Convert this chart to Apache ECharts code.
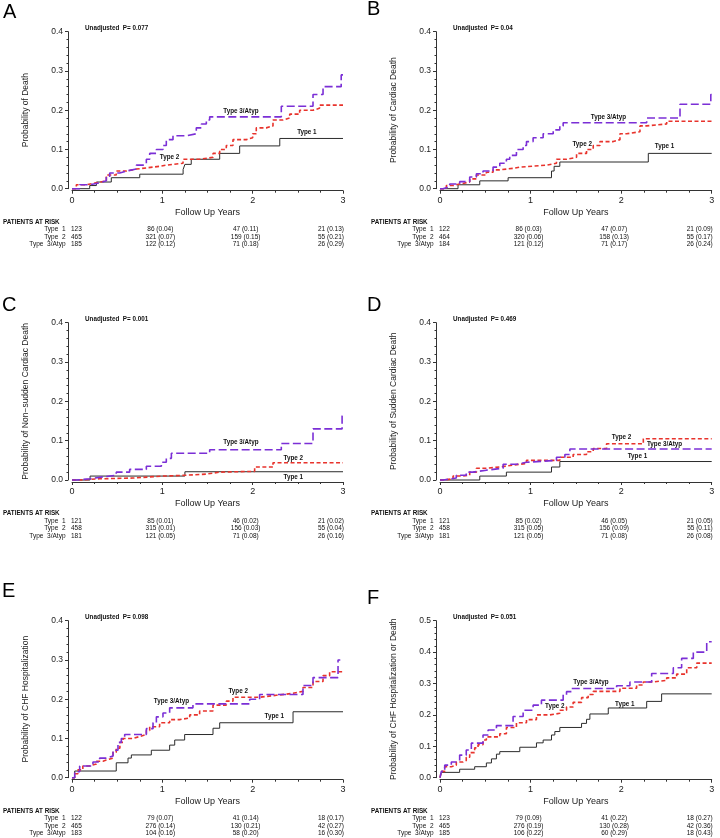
<!DOCTYPE html>
<html><head><meta charset="utf-8">
<script src="https://cdn.jsdelivr.net/npm/echarts@6/dist/echarts.min.js"></script>
<style>html,body{margin:0;padding:0;background:#fff}#c{width:720px;height:838px}</style>
</head><body><div id="c"></div>
<script>
// ---------------- DATA ----------------
const groups = ['Type 1', 'Type 2', 'Type 3/Atyp'];
const xTicks = [0, 1, 2, 3];
const panelLetters = ['A', 'B', 'C', 'D', 'E', 'F'];
const yTitles = ['Probability of Death', 'Probability of Cardiac Death', 'Probability of Non\u2212sudden Cardiac Death',
  'Probability of Sudden Cardiac Death', 'Probability of CHF Hospitalization', 'Probability of CHF Hospitalization or Death'];
const pValues = ['0.077', '0.04', '0.001', '0.469', '0.098', '0.051'];
const yMaxes = [0.4, 0.4, 0.4, 0.4, 0.4, 0.5];
const xTitle = 'Follow Up Years';
const riskHeader = 'PATIENTS AT RISK';

// Kaplan-Meier step points [years, probability]
const A_type1 = [[0,0],[0.196,0.008],[0.27,0.017],[0.435,0.028],[0.75,0.037],[1.23,0.049],[1.25,0.062],[1.32,0.075],[1.635,0.09],[1.856,0.109],[2.30,0.128],[3,0.128]];
const A_type2 = [[0,0],[0.048,0.01],[0.159,0.015],[0.269,0.02],[0.38,0.035],[0.49,0.045],[0.601,0.05],[0.712,0.055],[0.897,0.057],[0.97,0.06],[1.044,0.065],[1.229,0.075],[1.413,0.08],[1.561,0.09],[1.635,0.1],[1.708,0.11],[1.782,0.125],[1.93,0.13],[2.0,0.14],[2.04,0.155],[2.15,0.16],[2.225,0.175],[2.336,0.18],[2.41,0.19],[2.52,0.2],[2.668,0.205],[2.74,0.213],[3,0.213]];
const A_type3 = [[0,0],[0.085,0.01],[0.196,0.015],[0.306,0.02],[0.38,0.03],[0.417,0.04],[0.528,0.045],[0.601,0.05],[0.712,0.06],[0.786,0.063],[0.823,0.075],[0.86,0.09],[0.934,0.1],[1.007,0.11],[1.044,0.125],[1.118,0.135],[1.266,0.14],[1.376,0.155],[1.432,0.165],[1.487,0.175],[1.524,0.183],[2.317,0.21],[2.668,0.24],[2.779,0.26],[2.98,0.29],[3,0.29]];

const B_type1 = [[0,0],[0.199,0.01],[0.439,0.02],[0.752,0.028],[1.231,0.045],[1.26,0.057],[1.323,0.068],[2.30,0.09],[3,0.09]];
const B_type2 = [[0,0],[0.07,0.008],[0.144,0.012],[0.217,0.017],[0.328,0.025],[0.402,0.035],[0.512,0.042],[0.586,0.048],[0.66,0.052],[0.807,0.055],[0.881,0.06],[1.176,0.065],[1.286,0.075],[1.397,0.08],[1.508,0.09],[1.618,0.1],[1.692,0.11],[1.766,0.12],[1.913,0.125],[1.987,0.14],[2.06,0.145],[2.208,0.16],[2.282,0.165],[2.503,0.172],[3,0.172]];
const B_type3 = [[0,0],[0.033,0.005],[0.107,0.012],[0.217,0.018],[0.328,0.03],[0.402,0.038],[0.475,0.045],[0.586,0.055],[0.66,0.065],[0.733,0.075],[0.77,0.085],[0.844,0.1],[0.918,0.11],[0.955,0.12],[1.028,0.13],[1.139,0.14],[1.25,0.15],[1.323,0.16],[1.36,0.168],[2.282,0.18],[2.65,0.215],[2.99,0.24],[3,0.24]];

const C_type1 = [[0,0],[0.2,0.01],[1.25,0.021],[3,0.021]];
const C_type2 = [[0,0],[0.085,0.003],[0.306,0.005],[0.675,0.01],[1.007,0.012],[1.247,0.015],[1.487,0.02],[1.635,0.022],[2.022,0.033],[2.225,0.044],[3,0.044]];
const C_type3 = [[0,0],[0.048,0.003],[0.196,0.008],[0.343,0.012],[0.49,0.02],[0.638,0.027],[0.823,0.035],[0.989,0.045],[1.044,0.055],[1.1,0.068],[1.524,0.077],[2.317,0.093],[2.668,0.13],[2.99,0.163],[3,0.163]];

const D_type1 = [[0,0],[0.439,0.01],[0.733,0.02],[1.231,0.033],[1.323,0.047],[3,0.047]];
const D_type2 = [[0,0],[0.033,0.003],[0.144,0.01],[0.254,0.013],[0.328,0.02],[0.402,0.03],[0.512,0.033],[0.66,0.038],[0.807,0.042],[0.955,0.05],[1.323,0.058],[1.47,0.065],[1.618,0.072],[1.692,0.08],[1.839,0.092],[2.245,0.105],[3,0.105]];
const D_type3 = [[0,0],[0.033,0.005],[0.18,0.012],[0.29,0.02],[0.365,0.025],[0.512,0.03],[0.697,0.04],[0.844,0.045],[0.955,0.05],[1.286,0.058],[1.379,0.065],[1.434,0.079],[3,0.079]];

const E_type1 = [[0,0],[0.03,0.017],[0.49,0.038],[0.62,0.05],[0.657,0.058],[0.878,0.07],[1.081,0.083],[1.137,0.096],[1.247,0.11],[1.561,0.126],[1.635,0.14],[2.447,0.168],[3,0.168]];
const E_type2 = [[0,0],[0.03,0.01],[0.066,0.02],[0.12,0.03],[0.196,0.035],[0.27,0.042],[0.343,0.045],[0.38,0.05],[0.454,0.065],[0.49,0.075],[0.53,0.09],[0.565,0.1],[0.675,0.105],[0.749,0.11],[0.823,0.12],[0.86,0.13],[0.97,0.14],[1.081,0.148],[1.19,0.152],[1.303,0.16],[1.413,0.17],[1.561,0.185],[1.708,0.195],[1.782,0.205],[2.077,0.21],[2.262,0.215],[2.447,0.22],[2.557,0.23],[2.668,0.245],[2.779,0.26],[2.852,0.27],[3,0.27]];
const E_type3 = [[0,0],[0.03,0.015],[0.085,0.03],[0.232,0.04],[0.306,0.05],[0.38,0.055],[0.454,0.07],[0.509,0.09],[0.546,0.1],[0.583,0.11],[0.823,0.125],[0.897,0.14],[0.934,0.155],[1.007,0.165],[1.081,0.178],[1.339,0.188],[1.967,0.2],[2.077,0.212],[2.557,0.235],[2.668,0.255],[2.945,0.3],[2.97,0.3]];

const F_type1 = [[0,0],[0.015,0.017],[0.217,0.027],[0.383,0.035],[0.512,0.047],[0.568,0.06],[0.623,0.075],[0.66,0.083],[0.881,0.097],[1.065,0.111],[1.139,0.12],[1.231,0.136],[1.268,0.147],[1.323,0.16],[1.563,0.173],[1.618,0.186],[1.655,0.203],[1.858,0.222],[2.282,0.243],[2.447,0.267],[3,0.267]];
const F_type2 = [[0,0],[0.015,0.02],[0.052,0.035],[0.125,0.04],[0.18,0.05],[0.254,0.055],[0.29,0.065],[0.328,0.08],[0.383,0.095],[0.42,0.105],[0.475,0.12],[0.512,0.13],[0.66,0.14],[0.733,0.16],[0.844,0.175],[0.955,0.185],[1.065,0.2],[1.213,0.205],[1.323,0.215],[1.397,0.225],[1.47,0.24],[1.563,0.255],[1.636,0.265],[1.692,0.275],[1.987,0.285],[2.171,0.295],[2.245,0.305],[2.355,0.31],[2.503,0.318],[2.613,0.33],[2.724,0.35],[2.835,0.365],[3,0.365]];
const F_type3 = [[0,0],[0.015,0.02],[0.052,0.04],[0.125,0.05],[0.18,0.055],[0.217,0.072],[0.29,0.088],[0.346,0.11],[0.475,0.136],[0.531,0.152],[0.623,0.166],[0.807,0.195],[0.918,0.215],[1.028,0.231],[1.12,0.247],[1.36,0.263],[1.397,0.274],[1.452,0.284],[1.95,0.293],[2.097,0.305],[2.337,0.332],[2.576,0.35],[2.668,0.38],[2.797,0.4],[2.945,0.433],[3,0.433]];

// Patients at risk (counts and cumulative probability) at years 0,1,2,3
const A_riskN = [[123,86,47,21],[465,321,159,55],[185,122,71,26]];
const A_riskP = [[null,0.04,0.11,0.13],[null,0.07,0.15,0.21],[null,0.12,0.18,0.29]];
const B_riskN = [[122,86,47,21],[464,320,158,55],[184,121,71,26]];
const B_riskP = [[null,0.03,0.07,0.09],[null,0.06,0.13,0.17],[null,0.12,0.17,0.24]];
const C_riskN = [[121,85,46,21],[458,315,156,55],[181,121,71,26]];
const C_riskP = [[null,0.01,0.02,0.02],[null,0.01,0.03,0.04],[null,0.05,0.08,0.16]];
const D_riskN = [[121,85,46,21],[458,315,156,55],[181,121,71,26]];
const D_riskP = [[null,0.02,0.05,0.05],[null,0.05,0.09,0.11],[null,0.05,0.08,0.08]];
const E_riskN = [[122,79,41,18],[465,276,130,42],[183,104,58,16]];
const E_riskP = [[null,0.07,0.14,0.17],[null,0.14,0.21,0.27],[null,0.16,0.20,0.30]];
const F_riskN = [[123,79,41,18],[465,276,130,42],[185,106,60,18]];
const F_riskP = [[null,0.09,0.22,0.27],[null,0.19,0.28,0.36],[null,0.22,0.29,0.43]];

// ---------------- LAYOUT / STYLE ----------------
const curves = [[A_type1,A_type2,A_type3],[B_type1,B_type2,B_type3],[C_type1,C_type2,C_type3],
  [D_type1,D_type2,D_type3],[E_type1,E_type2,E_type3],[F_type1,F_type2,F_type3]];
const risksN = [A_riskN,B_riskN,C_riskN,D_riskN,E_riskN,F_riskN];
const risksP = [A_riskP,B_riskP,C_riskP,D_riskP,E_riskP,F_riskP];
const gridBoxes = [
  {left:72, top:31.7, width:271, height:157},
  {left:440, top:31.7, width:271.7, height:157},
  {left:72, top:322.7, width:271, height:157.3},
  {left:440, top:322.7, width:271.7, height:157.3},
  {left:72, top:620.7, width:271, height:157},
  {left:440, top:620.7, width:271.7, height:157}
];
const letterPos = [[3,12.5],[367,9.5],[2,305.5],[367,305.5],[2,591.5],[367,598.5]];
// curve label anchors (data coords): [type1, type2, type3]
const labelAnchors = [
  [[2.6,0.145],[1.08,0.08],[1.87,0.198]],
  [[2.48,0.107],[1.57,0.114],[1.86,0.183]],
  [[2.45,0.007],[2.45,0.055],[1.87,0.096]],
  [[2.18,0.06],[2.005,0.109],[2.48,0.092]],
  [[2.24,0.157],[1.84,0.221],[1.10,0.195]],
  [[2.04,0.235],[1.268,0.229],[1.666,0.304]]
];
const colors = ['#2b2b2b', '#e8332c', '#7b2fd6'];
const FONT = 'Liberation Sans, Arial, Helvetica, sans-serif';

const grids = [], xAxes = [], yAxes = [], series = [];
gridBoxes.forEach((b, i) => {
  grids.push(Object.assign({containLabel:false}, b));
  xAxes.push({
    type:'value', gridIndex:i, min:0, max:3, interval:1, offset:2,
    name: xTitle, nameLocation:'middle', nameGap:17,
    nameTextStyle:{fontFamily:FONT, fontSize:9, color:'#222'},
    axisLine:{show:true, onZero:false, lineStyle:{color:'#333', width:1}},
    axisTick:{show:true, inside:false, length:3, lineStyle:{color:'#333'}},
    minorTick:{show:true, splitNumber:4, length:2, lineStyle:{color:'#333'}},
    axisLabel:{fontFamily:FONT, fontSize:9, color:'#222', margin:5, formatter: v => xTicks.includes(v) ? String(v) : ''},
    splitLine:{show:false}
  });
  yAxes.push({
    type:'value', gridIndex:i, min:0, max:yMaxes[i], interval:0.1, offset:4,
    name: yTitles[i], nameLocation:'middle', nameGap:38, nameRotate:90,
    nameTextStyle:{fontFamily:FONT, fontSize:8.5, color:'#222'},
    axisLine:{show:true, onZero:false, lineStyle:{color:'#333', width:1}},
    axisTick:{show:true, inside:false, length:3, lineStyle:{color:'#333'}},
    minorTick:{show:true, splitNumber:5, length:1.5, lineStyle:{color:'#333'}},
    axisLabel:{fontFamily:FONT, fontSize:8.5, color:'#222', margin:5, formatter: v => v.toFixed(1)},
    splitLine:{show:false}
  });
  const styles = [
    {color:colors[0], width:1, type:'solid'},
    {color:colors[1], width:1.6, type:[4,2.5]},
    {color:colors[2], width:1.6, type:[8,3.5]}
  ];
  [0,2,1].forEach(k => {
    series.push({
      type:'line', name: groups[k], xAxisIndex:i, yAxisIndex:i, data: curves[i][k],
      step:'end', symbol:'none', showSymbol:false, silent:true, animation:false,
      lineStyle: styles[k], z: 2 + k, clip:false
    });
  });
});

const chart = echarts.init(document.getElementById('c'), null, {renderer:'canvas'});
chart.setOption({
  backgroundColor:'#ffffff', animation:false,
  grid:grids, xAxis:xAxes, yAxis:yAxes, series:series
});

const fmtP = p => p.toFixed(2);
const g = [];
const txt = (x, y, text, size, weight, align, extra) => g.push({
  type:'text', x, y, silent:true,
  style:Object.assign({text, fontFamily:FONT, fontSize:size, fontWeight:weight||'normal', fill:'#111',
    align:align||'left', verticalAlign:'middle'}, extra||{})
});
gridBoxes.forEach((b, i) => {
  // panel letter
  txt(letterPos[i][0], letterPos[i][1], panelLetters[i], 20, 'normal', 'left', {fill:'#000'});
  // p value
  txt(b.left + 13, b.top - 3.7, 'Unadjusted  P= ' + pValues[i], 6.3, 'bold', 'left');
  // curve labels
  labelAnchors[i].forEach((a, k) => {
    const p = chart.convertToPixel({gridIndex:i}, a);
    txt(p[0], p[1], groups[k], 6.3, 'bold', 'center');
  });
  // risk table
  const y0 = chart.convertToPixel({yAxisIndex:i}, 0);
  txt(b.left - 69, y0 + 33.6, riskHeader, 6.3, 'bold', 'left');
  const rowOff = [41, 48.6, 55.8];
  groups.forEach((gname, k) => {
    const ry = y0 + rowOff[k];
    txt(b.left - 6.5, ry, gname.replace('Type ', 'Type  '), 6.5, 'normal', 'right');
    xTicks.forEach((t, c) => {
      const px = chart.convertToPixel({xAxisIndex:i}, t);
      const n = risksN[i][k][c], pr = risksP[i][k][c];
      const s = pr == null ? String(n) : n + ' (' + fmtP(pr) + ')';
      if (c === 0) txt(px - 1, ry, s, 6.5, 'normal', 'left');
      else if (c === 1) txt(px - 2, ry, s, 6.5, 'normal', 'center');
      else if (c === 2) txt(px - 7, ry, s, 6.5, 'normal', 'center');
      else txt(px + 1, ry, s, 6.5, 'normal', 'right');
    });
  });
});
chart.setOption({graphic:g});
</script>
</body></html>
